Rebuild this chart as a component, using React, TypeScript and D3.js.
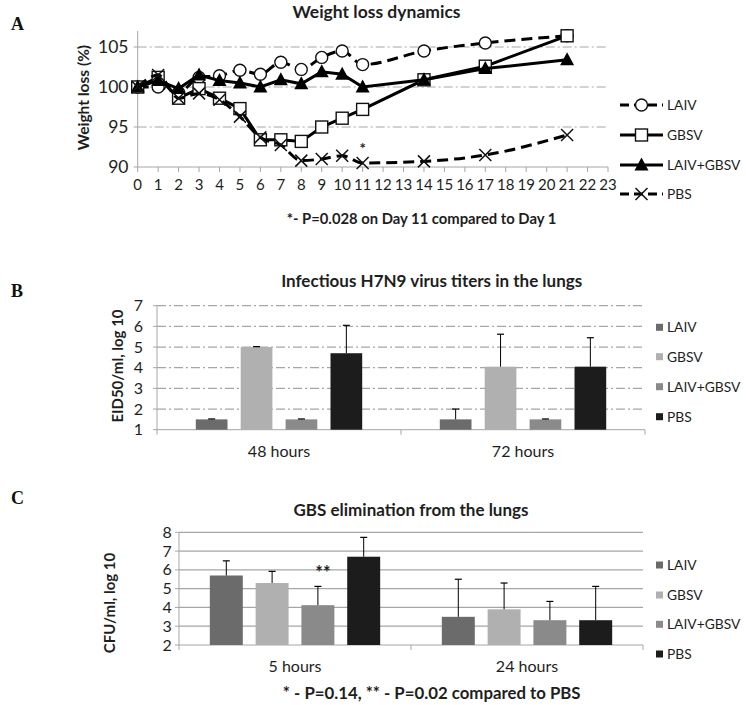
import React from "react";
import * as d3 from "d3";

// ---------- Panel A data ----------
const days = [0, 1, 2, 3, 4, 5, 6, 7, 8, 9, 10, 11, 14, 17, 21];
const laivWeight = [100, 100, 99.3, 101.2, 101.4, 102.1, 101.6, 103.1, 102.2, 103.7, 104.5, 102.8, 104.5, 105.5, 106.4];
const gbsvWeight = [100, 101.2, 98.6, 99.8, 98.6, 97.3, 93.4, 93.4, 93.2, 95.0, 96.1, 97.2, 100.9, 102.6, 106.4];
const comboWeight = [100, 100.8, 99.8, 101.5, 100.8, 100.5, 100.0, 100.9, 100.4, 101.9, 101.6, 100.0, 100.9, 102.3, 103.4];
const pbsWeight = [100, 101.5, 98.6, 99.2, 98.4, 96.3, 93.7, 92.75, 90.8, 91.0, 91.4, 90.5, 90.7, 91.5, 94.0];
const aXTicks = d3.range(0, 24);
const aYTicks = [90, 95, 100, 105];

// ---------- Panel B data ----------
const groups = ["LAIV", "GBSV", "LAIV+GBSV", "PBS"];
const bCategories = ["48 hours", "72 hours"];
const bMeans = [
  [1.5, 5.0, 1.5, 4.7],
  [1.5, 4.05, 1.5, 4.05],
];
const bErrors = [
  [0.02, 0.02, 0.02, 1.35],
  [0.5, 1.57, 0.02, 1.4],
];
const bYTicks = [1, 2, 3, 4, 5, 6, 7];

// ---------- Panel C data ----------
const cCategories = ["5 hours", "24 hours"];
const cMeans = [
  [5.7, 5.3, 4.12, 6.7],
  [3.5, 3.9, 3.32, 3.32],
];
const cErrors = [
  [0.78, 0.62, 1.0, 1.03],
  [2.0, 1.4, 1.0, 1.8],
];
const cYTicks = [2, 3, 4, 5, 6, 7, 8];

const barColors = ["#6b6b6b", "#b0b0b0", "#8a8a8a", "#1c1c1c"];
const FONT = "Lato, 'Open Sans', sans-serif";
const SERIF = "'Liberation Serif', 'DejaVu Serif', serif";
const TXT = "#1e1e1e";
const GRID = "#a6a6a6";

type LineSeries = { name: string; values: number[]; dashed: boolean; marker: string };
const lineSeries: LineSeries[] = [
  { name: "LAIV", values: laivWeight, dashed: true, marker: "circle" },
  { name: "GBSV", values: gbsvWeight, dashed: false, marker: "square" },
  { name: "LAIV+GBSV", values: comboWeight, dashed: false, marker: "triangle" },
  { name: "PBS", values: pbsWeight, dashed: true, marker: "cross" },
];

function Marker({ type, x, y }: { type: string; x: number; y: number }) {
  if (type === "circle")
    return <circle cx={x} cy={y} r={6} fill="#fff" stroke="#111" strokeWidth={1.4} />;
  if (type === "square")
    return <rect x={x - 6} y={y - 6} width={12} height={12} fill="#fff" stroke="#111" strokeWidth={1.4} />;
  if (type === "triangle")
    return <path d={`M${x},${y - 7.5}L${x + 7},${y + 5.5}L${x - 7},${y + 5.5}Z`} fill="#000" />;
  return (
    <path
      d={`M${x - 6},${y - 6}L${x + 6},${y + 6}M${x - 6},${y + 6}L${x + 6},${y - 6}`}
      stroke="#111"
      strokeWidth={1.5}
      fill="none"
    />
  );
}

function PanelA() {
  const x = d3.scaleLinear().domain([0, 23]).range([137.7, 608]);
  const y = d3.scaleLinear().domain([90, 107]).range([167, 31]);
  const legendY = [105, 135, 165, 194];
  return (
    <g>
      <text x={11} y={30} fontFamily={SERIF} fontWeight="bold" fontSize={18} fill="#111">A</text>
      <text x={376.5} y={18} textAnchor="middle" fontFamily={FONT} fontWeight="bold" fontSize={17.5} fill={TXT}>
        Weight loss dynamics
      </text>
      {aYTicks.filter((t) => t > 90).map((t) => (
        <line key={t} x1={x(0)} x2={x(23)} y1={y(t)} y2={y(t)} stroke={GRID} strokeWidth={1} strokeDasharray="9,3,2,3" />
      ))}
      <line x1={x(0)} x2={x(0)} y1={y(107)} y2={y(90)} stroke={GRID} strokeWidth={1} />
      <line x1={x(0)} x2={x(23)} y1={y(90)} y2={y(90)} stroke={GRID} strokeWidth={1} />
      {aXTicks.map((t) => (
        <g key={t}>
          <line x1={x(t)} x2={x(t)} y1={y(90)} y2={y(90) + 5} stroke={GRID} />
          <text x={x(t)} y={y(90) + 23} textAnchor="middle" fontFamily={FONT} fontSize={15} fill={TXT}>{t}</text>
        </g>
      ))}
      {aYTicks.map((t) => (
        <g key={t}>
          <line x1={x(0) - 4} x2={x(0)} y1={y(t)} y2={y(t)} stroke={GRID} />
          <text x={128.5} y={y(t) + 6} textAnchor="end" fontFamily={FONT} fontSize={17.5} fill={TXT}>{t}</text>
        </g>
      ))}
      <text transform={`translate(89,97.5) rotate(-90)`} textAnchor="middle" fontFamily={FONT} fontWeight="bold" fontSize={15.5} fill={TXT}>
        Weight loss (%)
      </text>
      {lineSeries.map((s) => {
        const line = d3
          .line<number>()
          .x((_, i) => x(days[i]))
          .y((v) => y(v))
          .curve(s.dashed ? d3.curveMonotoneX : d3.curveLinear);
        return (
          <g key={s.name}>
            <path d={line(s.values) || ""} fill="none" stroke="#000" strokeWidth={3} strokeDasharray={s.dashed ? "11,6" : undefined} />
            {s.values.map((v, i) => (
              <Marker key={i} type={s.marker} x={x(days[i])} y={y(v)} />
            ))}
          </g>
        );
      })}
      <text x={x(11)} y={y(90.5) - 9} textAnchor="middle" fontFamily={FONT} fontWeight="bold" fontSize={15} fill={TXT}>*</text>
      <text x={421.5} y={224} textAnchor="middle" fontFamily={FONT} fontWeight="bold" fontSize={14.8} fill={TXT}>
        *- P=0.028 on Day 11 compared to Day 1
      </text>
      {lineSeries.map((s, i) => (
        <g key={s.name}>
          <line x1={620} x2={663} y1={legendY[i]} y2={legendY[i]} stroke="#000" strokeWidth={3} strokeDasharray={s.dashed ? "9,5" : undefined} />
          <Marker type={s.marker} x={641.5} y={legendY[i]} />
          <text x={667} y={legendY[i] + 5} fontFamily={FONT} fontSize={13.8} fill={TXT}>{s.name}</text>
        </g>
      ))}
    </g>
  );
}

type BarProps = {
  categories: string[];
  means: number[][];
  errors: number[][];
  yTicks: number[];
  x0: number;
  x1: number;
  yBottom: number;
  yTop: number;
  paddingInner: number;
  paddingOuter: number;
  gridDash?: string;
  legendY: number[];
  title: string;
  titleX: number;
  titleY: number;
  yLabel: string;
  yLabelX: number;
  yLabelY: number;
  tickRight: number;
  catY: number;
};

function BarPanel(p: BarProps) {
  const xCat = d3.scaleBand().domain(p.categories).range([p.x0, p.x1]);
  const xSeries = d3
    .scaleBand()
    .domain(groups)
    .range([0, xCat.bandwidth()])
    .paddingInner(p.paddingInner)
    .paddingOuter(p.paddingOuter);
  const lo = p.yTicks[0];
  const hi = p.yTicks[p.yTicks.length - 1];
  const y = d3.scaleLinear().domain([lo, hi]).range([p.yBottom, p.yTop]);
  const bw = xSeries.bandwidth();
  return (
    <g>
      <text x={p.titleX} y={p.titleY} textAnchor="middle" fontFamily={FONT} fontWeight="bold" fontSize={17} fill={TXT}>
        {p.title}
      </text>
      {p.yTicks.filter((t) => t > lo).map((t) => (
        <line key={t} x1={p.x0} x2={p.x1} y1={y(t)} y2={y(t)} stroke={GRID} strokeWidth={1.2} strokeDasharray={p.gridDash} />
      ))}
      {p.yTicks.map((t) => (
        <g key={t}>
          <line x1={p.x0 - 4} x2={p.x0} y1={y(t)} y2={y(t)} stroke={GRID} />
          <text x={p.tickRight} y={y(t) + 5.5} textAnchor="end" fontFamily={FONT} fontSize={16} fill={TXT}>{t}</text>
        </g>
      ))}
      <line x1={p.x0} x2={p.x0} y1={y(hi)} y2={y(lo)} stroke={GRID} />
      <line x1={p.x0} x2={p.x1} y1={y(lo)} y2={y(lo)} stroke={GRID} />
      {[p.x0, ...p.categories.map((c) => (xCat(c) as number) + xCat.bandwidth())].map((tx, i) => (
        <line key={i} x1={tx} x2={tx} y1={y(lo)} y2={y(lo) + 5} stroke={GRID} />
      ))}
      {p.categories.map((c, ci) => (
        <g key={c}>
          {groups.map((g, gi) => {
            const bx = (xCat(c) as number) + (xSeries(g) as number);
            const v = p.means[ci][gi];
            const e = p.errors[ci][gi];
            const cx = bx + bw / 2;
            return (
              <g key={g}>
                <rect x={bx} y={y(v)} width={bw} height={y(lo) - y(v)} fill={barColors[gi]} />
                <line x1={cx} x2={cx} y1={y(v)} y2={y(v + e)} stroke="#000" strokeWidth={1} />
                <line x1={cx - 3.5} x2={cx + 3.5} y1={y(v + e)} y2={y(v + e)} stroke="#000" strokeWidth={1.2} />
              </g>
            );
          })}
          <text x={(xCat(c) as number) + xCat.bandwidth() / 2} y={p.catY} textAnchor="middle" fontFamily={FONT} fontSize={16} fill={TXT}>
            {c}
          </text>
        </g>
      ))}
      <text transform={`translate(${p.yLabelX},${p.yLabelY}) rotate(-90)`} textAnchor="middle" fontFamily={FONT} fontWeight="bold" fontSize={15} fill={TXT}>
        {p.yLabel}
      </text>
      {groups.map((g, i) => (
        <g key={g}>
          <rect x={656} y={p.legendY[i] - 3.5} width={7} height={7} fill={barColors[i]} />
          <text x={667} y={p.legendY[i] + 5} fontFamily={FONT} fontSize={13.8} fill={TXT}>{g}</text>
        </g>
      ))}
    </g>
  );
}

export default function App() {
  return (
    <svg width={746} height={705} style={{ position: "absolute", left: 0, top: 0, background: "#fff" }}>
      <rect width={746} height={705} fill="#fff" />
      <PanelA />
      <text x={11} y={297} fontFamily={SERIF} fontWeight="bold" fontSize={18} fill="#111">B</text>
      <BarPanel
        categories={bCategories}
        means={bMeans}
        errors={bErrors}
        yTicks={bYTicks}
        x0={157}
        x1={645}
        yBottom={429.7}
        yTop={305.7}
        paddingInner={0.294}
        paddingOuter={0.864}
        gridDash="9,3,2,3"
        legendY={[327.3, 356.7, 386.7, 416.7]}
        title="Infectious H7N9 virus titers in the lungs"
        titleX={431.7}
        titleY={287}
        yLabel="EID50/ml, log 10"
        yLabelX={123}
        yLabelY={366}
        tickRight={143}
        catY={457}
      />
      <text x={11} y={504} fontFamily={SERIF} fontWeight="bold" fontSize={18} fill="#111">C</text>
      <BarPanel
        categories={cCategories}
        means={cMeans}
        errors={cErrors}
        yTicks={cYTicks}
        x0={179}
        x1={643}
        yBottom={645}
        yTop={532.3}
        paddingInner={0.28}
        paddingOuter={0.673}
        legendY={[565, 595, 624.3, 654]}
        title="GBS elimination from the lungs"
        titleX={411}
        titleY={516}
        yLabel="CFU/ml, log 10"
        yLabelX={115}
        yLabelY={603}
        tickRight={171.7}
        catY={672}
      />
      <text x={323} y={y2Star()} textAnchor="middle" fontFamily={FONT} fontWeight="bold" fontSize={18} fill={TXT}>**</text>
      <text x={431.7} y={698.5} textAnchor="middle" fontFamily={FONT} fontWeight="bold" fontSize={16.8} fill={TXT}>
        * - P=0.14, ** - P=0.02 compared to PBS
      </text>
    </svg>
  );
}

function y2Star() {
  const y = d3.scaleLinear().domain([2, 8]).range([645, 532.3]);
  return y(cMeans[0][2] + cErrors[0][2]) - 7;
}
